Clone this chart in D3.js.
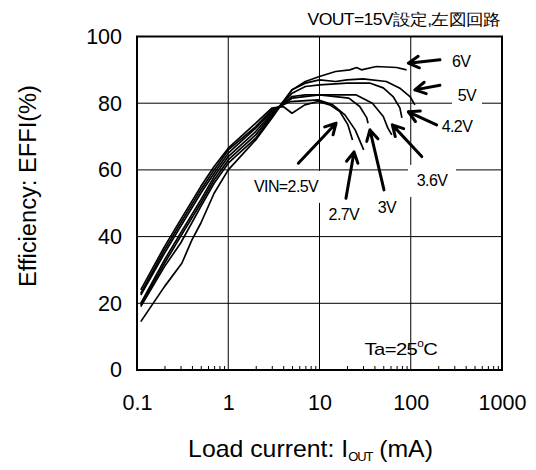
<!DOCTYPE html>
<html><head><meta charset="utf-8">
<script src="https://cdn.jsdelivr.net/npm/d3@7"></script>
<style>
html,body{margin:0;padding:0;background:#fff;}
text{font-family:"Liberation Sans",Arial,sans-serif;fill:#000;}
</style></head>
<body>
<svg id="chart" width="536" height="470"></svg>
<script>
// ---- data ----
const xTicks = [0.1, 1, 10, 100, 1000];
const yTicks = [0, 20, 40, 60, 80, 100];

const i25 = [0.11,0.2,0.3,0.5,0.7,1,2,3,4,5,6.9,9.6,13,16.7,20.5,23];
const e25 = [24,37,45,55,61,66.5,74,78.5,79,77,79.5,80.5,79.5,77.5,73.5,69];
const i27 = [0.11,0.2,0.3,0.5,0.7,1,2,3,4.8,9.6,14,19,24.6,30.5];
const e27 = [23,36,44,54,60,66,73,78,80.5,81,79.5,76.5,72,66];
const i30 = [0.11,0.2,0.3,0.5,0.7,1,2,3,5,10,21,27.6,33,34];
const e30 = [22.5,35,43,53,59,65,72.5,77.5,81.5,82.5,81.5,79,75.6,74];
const i36 = [0.11,0.2,0.3,0.5,0.7,1,2,3,5,7,13,25,38,50,56,62];
const e36 = [20,33,41,51,58,64,71.5,77,82,82.5,82.5,82.5,80,76,72.6,70.5];
const i42 = [0.11,0.2,0.3,0.5,0.7,1,2,3,5,7,10,20,36,50,64,76,80];
const e42 = [19.5,32,40,50,57,63,70.5,76.5,83,85,85.5,86,86,84.6,82,78.6,75.6];
const i50 = [0.11,0.2,0.3,0.5,0.7,1,2,3,5,7,10,15,20,30,54,76,98,111];
const e50 = [19,31,38,49,56,62,69.5,76,84,86,87,86.5,87,87.3,86.5,84.5,82,79.5];
const i60 = [0.11,0.2,0.31,0.4,0.5,0.7,1,2,3,5,7,10,15,21.5,25.5,28.8,42,70,90];
const e60 = [14.5,25,32,39,44,53,60,69,75.5,84,86.5,88,89.5,90,90.7,90,91,90.7,90];

const seriesNames = ["VIN=2.5V","2.7V","3V","3.6V","4.2V","5V","6V"];
const seriesI = [i25,i27,i30,i36,i42,i50,i60];
const seriesE = [e25,e27,e30,e36,e42,e50,e60];

// annotation arrows (tail -> tip) and label anchors, in data units (mA, %)
const arrowTail = [[5.86,62],[19.5,51.5],[50.9,54],[132,64],[192,73.5],[209,85.4],[209,93]];
const arrowTip  = [[15.2,74],[23.9,65.4],[35.7,72],[62.8,73.5],[94,77.4],[111,84],[94,92]];
const labelPos  = [[4.3,54.9],[18.5,46.5],[54.9,48.6],[171,56.7],[321,72.9],[413,82.4],[356,92.6]];

const titleText = "VOUT=15V設定,左図回路";

// ---- chart ----
const svg = d3.select("#chart");
const L = 137, R = 502, T = 36.5, B = 370;
const x = d3.scaleLog().domain([0.1, 1000]).range([L, R]);
const y = d3.scaleLinear().domain([0, 100]).range([B, T]);

function fitX(sel, target, ax) {
  const w = sel.node().getBBox().width;
  const s = target / w;
  sel.attr("transform", `translate(${ax},0) scale(${s},1) translate(${-ax},0)`);
}

// grid
const g = svg.append("g");
g.selectAll(".vg").data(xTicks.slice(1, -1)).enter().append("line")
  .attr("x1", d => x(d)).attr("x2", d => x(d)).attr("y1", T).attr("y2", B)
  .attr("stroke", "#000").attr("stroke-width", 1);
g.selectAll(".hg").data(yTicks.slice(1, -1)).enter().append("line")
  .attr("x1", L).attr("x2", R).attr("y1", d => y(d)).attr("y2", d => y(d))
  .attr("stroke", "#000").attr("stroke-width", 1);

// minor ticks on bottom axis
const minors = [];
for (let dec = 0.1; dec < 1000; dec *= 10) for (let k = 2; k <= 9; k++) minors.push(+(dec * k).toPrecision(3));
svg.append("g").attr("transform", `translate(0,${B})`)
  .call(d3.axisBottom(x).tickValues(minors).tickSize(-4).tickFormat(""))
  .call(s => s.select(".domain").remove())
  .selectAll("line").attr("stroke", "#000").attr("stroke-width", 1);

// axes labels
const xa = svg.append("g").attr("transform", `translate(0,${B})`)
  .call(d3.axisBottom(x).tickValues(xTicks).tickFormat(d => String(d)).tickSize(0).tickPadding(25));
xa.select(".domain").remove();
xa.selectAll("text").attr("font-size", 21.5).attr("font-family", "Liberation Sans, Arial, sans-serif");
const ya = svg.append("g").attr("transform", `translate(${L},0)`)
  .call(d3.axisLeft(y).tickValues(yTicks).tickSize(0).tickPadding(15));
ya.select(".domain").remove();
ya.selectAll("text").attr("font-size", 21.5).attr("font-family", "Liberation Sans, Arial, sans-serif");

// label backgrounds (white boxes that break the grid)
const bgBoxes = [0, 3, 5];
bgBoxes.forEach(i => {
  const [lx, ly] = labelPos[i];
  const w = seriesNames[i].length * 9 + 12;
  svg.append("rect").attr("x", x(lx) - w / 2).attr("y", y(ly) - 16).attr("width", w).attr("height", 32)
    .attr("fill", "#fff");
});

// curves
const line = d3.line().x(d => x(d[0])).y(d => y(d[1]));
seriesI.forEach((xs, k) => {
  const pts = xs.map((v, j) => [v, seriesE[k][j]]);
  svg.append("path").attr("d", line(pts)).attr("fill", "none")
    .attr("stroke", "#000").attr("stroke-width", 1.7).attr("stroke-linejoin", "round");
});

// plot frame
svg.append("rect").attr("x", L).attr("y", T).attr("width", R - L).attr("height", B - T)
  .attr("fill", "none").attr("stroke", "#000").attr("stroke-width", 2);

// arrows
arrowTail.forEach((t, i) => {
  const x1 = x(t[0]), y1 = y(t[1]), x2 = x(arrowTip[i][0]), y2 = y(arrowTip[i][1]);
  const a = Math.atan2(y2 - y1, x2 - x1), h = 12, sp = 0.5;
  const p = `M${x1},${y1}L${x2},${y2}M${x2 - h * Math.cos(a - sp)},${y2 - h * Math.sin(a - sp)}L${x2},${y2}L${x2 - h * Math.cos(a + sp)},${y2 - h * Math.sin(a + sp)}`;
  svg.append("path").attr("d", p).attr("fill", "none").attr("stroke", "#000")
    .attr("stroke-width", 3).attr("stroke-linecap", "round").attr("stroke-linejoin", "round");
});

// series labels
seriesNames.forEach((n, i) => {
  svg.append("text").attr("x", x(labelPos[i][0])).attr("y", y(labelPos[i][1]))
    .attr("text-anchor", "middle").attr("dominant-baseline", "central")
    .attr("font-size", 16).attr("letter-spacing", -0.6).text(n);
});

// Ta label
const taX = x(78);
const ta = svg.append("text").attr("x", taX).attr("y", y(6.3)).attr("text-anchor", "middle")
  .attr("dominant-baseline", "central").attr("font-size", 17).attr("letter-spacing", -0.5);
ta.append("tspan").text("Ta=25");
ta.append("tspan").attr("font-size", 10).attr("dy", -6).text("o");
ta.append("tspan").attr("dy", 6).text("C");
fitX(ta, 73, taX);

// title
const tt = svg.append("text").attr("x", 500).attr("y", 25).attr("text-anchor", "end")
  .attr("font-size", 16).attr("letter-spacing", -0.6)
  .attr("font-family", "Liberation Sans, 'Noto Sans CJK JP', sans-serif").text(titleText);
fitX(tt, 192, 500);

// axis titles
svg.append("text").attr("transform", "translate(28,186) rotate(-90)").attr("text-anchor", "middle")
  .attr("dominant-baseline", "central").attr("font-size", 23).attr("textLength", 202)
  .attr("lengthAdjust", "spacingAndGlyphs").text("Efficiency: EFFI(%)");
const xt = svg.append("text").attr("x", 310.5).attr("y", 457).attr("text-anchor", "middle").attr("font-size", 23);
xt.append("tspan").text("Load current: I");
xt.append("tspan").attr("font-size", 12).attr("dy", 4).attr("letter-spacing", -1).text("OUT");
xt.append("tspan").attr("dy", -4).text(" (mA)");
fitX(xt, 245, 310.5);
</script>
</body></html>
